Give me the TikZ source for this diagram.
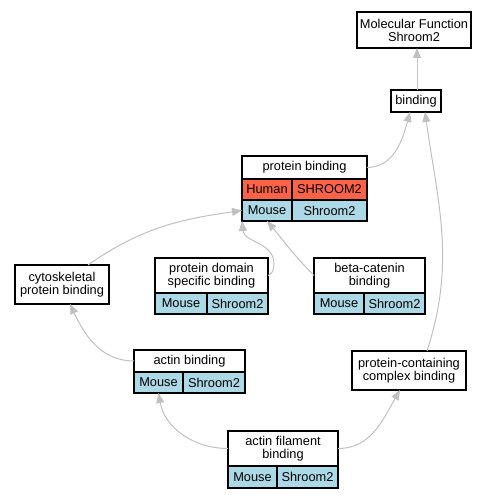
\documentclass[tikz,border=0pt]{standalone}
\usepackage{fontspec}
\setmainfont{Liberation Sans}
\usetikzlibrary{arrows.meta,positioning}
\newcommand{\px}{0.75pt}
\definecolor{tomato}{RGB}{255,99,71}
\definecolor{mouseblue}{RGB}{173,216,230}
\definecolor{edgegray}{RGB}{192,192,192}
\begin{document}
\begin{tikzpicture}[
    x=\px, y=\px,
    term/.style={draw=black, line width=1pt, fill=white, inner sep=0pt, outer sep=0pt,
      align=center, anchor=north west, font=\fontsize{9.6}{9.8}\selectfont},
    dims/.style 2 args={minimum width=#1*\px, minimum height=#2*\px},
    human/.style={term, fill=tomato},
    mouse/.style={term, fill=mouseblue},
    isa/.style={draw=edgegray, line width=0.75pt, -{Triangle[length=7.5pt,width=6pt]}}
    ]
  \useasboundingbox (0,0) rectangle (493,499);
  % terms
  \node [term, dims={114}{36}] (mf) at (357,487) {Molecular Function\\Shroom2};
  \node [term, dims={50}{22}] (bind) at (391,409) {binding};
  \node [term, dims={125}{23}] (pb) at (242,343) {protein binding};
  \node [human, dims={50}{21}] (pbh1) at (pb.south west) {Human};
  \node [human, dims={75}{21}] (pbh2) at (pbh1.north east) {SHROOM2};
  \node [mouse, dims={50}{21}] (pbm1) at (pbh1.south west) {Mouse};
  \node [mouse, dims={75}{21}] (pbm2) at (pbm1.north east) {Shroom2};
  \node [term, dims={113}{35}] (pdsb) at (155,241) {protein domain\\specific binding};
  \node [mouse, dims={52}{21}] (pdsbm1) at (pdsb.south west) {Mouse};
  \node [mouse, dims={61}{21}] (pdsbm2) at (pdsbm1.north east) {Shroom2};
  \node [term, dims={111}{35}] (bcb) at (314,241) {beta-catenin\\binding};
  \node [mouse, dims={50}{21}] (bcbm1) at (bcb.south west) {Mouse};
  \node [mouse, dims={61}{21}] (bcbm2) at (bcbm1.north east) {Shroom2};
  \node [term, dims={94}{39}] (cyto) at (15,234) {cytoskeletal\\protein binding};
  \node [term, dims={111}{22}] (ab) at (134,149) {actin binding};
  \node [mouse, dims={49}{21}] (abm1) at (ab.south west) {Mouse};
  \node [mouse, dims={62}{21}] (abm2) at (abm1.north east) {Shroom2};
  \node [term, dims={114}{39}] (pcc) at (352,148) {protein-containing\\complex binding};
  \node [term, dims={110}{35}] (afb) at (228,68) {actin filament\\binding};
  \node [mouse, dims={49}{22}] (afbm1) at (afb.south west) {Mouse};
  \node [mouse, dims={61}{22}] (afbm2) at (afbm1.north east) {Shroom2};
  % is-a links
  \draw [isa] ([xshift=1*\px]bind.north) -- ([xshift=1*\px]bind.north |- mf.south);
  \draw [isa] (pb.east) to[out=0, in=-105] ([xshift=-6*\px]bind.south);
  \draw [isa] ([xshift=18*\px]pcc.north) to[out=72, in=-82] ([xshift=9*\px]bind.south);
  \draw [isa] ([xshift=26*\px]cyto.north) to[out=35, in=188] (pbm1.west);
  \draw [isa] (pdsb.east) to[out=20, in=-90] ++(6,12) to[out=90, in=-85] (pbm1.south west);
  \draw [isa] (bcb.west) to[out=135, in=-50] (pbm1.south);
  \draw [isa] (ab.west) to[out=180, in=-65] ([xshift=8*\px]cyto.south);
  \draw [isa] (afb.west) to[out=180, in=-80] (abm1.south);
  \draw [isa] (afb.east) to[out=0, in=-120] ([xshift=-9*\px]pcc.south);
\end{tikzpicture}
\end{document}
